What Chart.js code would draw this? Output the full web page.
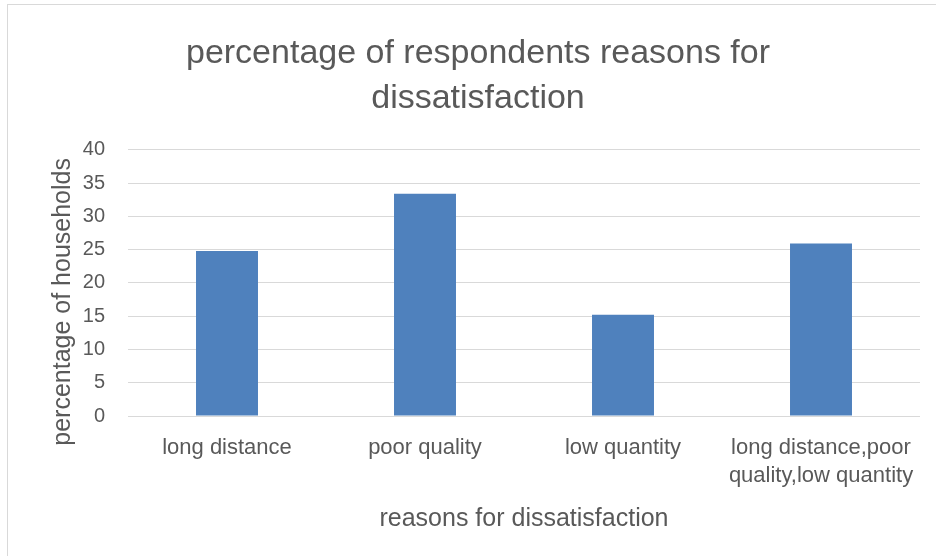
<!DOCTYPE html>
<html>
<head>
<meta charset="utf-8">
<script src="https://cdn.jsdelivr.net/npm/chart.js@4/dist/chart.umd.min.js"></script>
<style>
  html, body { margin: 0; padding: 0; background: #ffffff; }
  #wrap { position: relative; width: 936px; height: 556px; overflow: hidden; }
  #frame { position: absolute; left: 7px; top: 4px; width: 960px; height: 600px;
           border-left: 1px solid #d9d9d9; border-top: 1px solid #d9d9d9; pointer-events: none; }
  canvas { position: absolute; left: 0; top: 0; }
</style>
</head>
<body>
<div id="wrap">
  <canvas id="chart" width="936" height="556"></canvas>
  <div id="frame"></div>
</div>
<script>
// Reasons given by dissatisfied households
const categories = [
  'long distance',
  'poor quality',
  'low quantity',
  ['long distance,poor', 'quality,low quantity']
];
const percentages = [24.8, 33.4, 15.2, 25.9];
const yTicks = [0, 5, 10, 15, 20, 25, 30, 35, 40];

const chartTitle = ['percentage of respondents reasons for', 'dissatisfaction'];
const xTitle = 'reasons for dissatisfaction';
const yTitle = 'percentage of households';

const textColor = '#595959';
const fontFamily = '"Liberation Sans", Arial, sans-serif';

// Vertical axis title, set a little below the middle of the plot area
const yTitlePlugin = {
  id: 'yTitle',
  afterDraw(chart) {
    const { ctx, chartArea } = chart;
    const cy = (chartArea.top + chartArea.bottom) / 2 + 19;
    ctx.save();
    ctx.translate(63, cy);
    ctx.rotate(-Math.PI / 2);
    ctx.font = '25px ' + fontFamily;
    ctx.fillStyle = textColor;
    ctx.textAlign = 'center';
    ctx.textBaseline = 'middle';
    ctx.fillText(yTitle, 0, 0);
    ctx.restore();
  }
};

new Chart(document.getElementById('chart'), {
  type: 'bar',
  data: {
    labels: categories,
    datasets: [{
      data: percentages,
      backgroundColor: '#4f81bd',
      borderWidth: 0,
      categoryPercentage: 1,
      barPercentage: 0.313
    }]
  },
  plugins: [yTitlePlugin],
  options: {
    responsive: false,
    animation: false,
    layout: { padding: { left: 36, right: 16, top: 0, bottom: 0 } },
    plugins: {
      legend: { display: false },
      tooltip: { enabled: false },
      title: {
        display: true,
        text: chartTitle,
        color: textColor,
        font: { family: fontFamily, size: 34, weight: 'normal', lineHeight: 1.32 },
        padding: { top: 31, bottom: 29 }
      }
    },
    scales: {
      x: {
        grid: { display: false, drawTicks: false },
        border: { display: false },
        ticks: {
          color: textColor,
          padding: 18,
          maxRotation: 0,
          autoSkip: false,
          font: { family: fontFamily, size: 22, lineHeight: 1.27 }
        },
        title: {
          display: true,
          text: xTitle,
          color: textColor,
          font: { family: fontFamily, size: 25, lineHeight: 1.2 },
          padding: { top: 0, bottom: 22 }
        },
        afterFit: (scale) => { scale.height = 140; }
      },
      y: {
        min: 0,
        max: 40,
        afterBuildTicks: (scale) => { scale.ticks = yTicks.map(v => ({ value: v })); },
        grid: { color: '#d9d9d9', lineWidth: 1, drawTicks: false },
        border: { display: false },
        ticks: {
          color: textColor,
          padding: 23,
          font: { family: fontFamily, size: 20 }
        },
        afterFit: (scale) => { scale.width = 92; }
      }
    }
  }
});
</script>
</body>
</html>
